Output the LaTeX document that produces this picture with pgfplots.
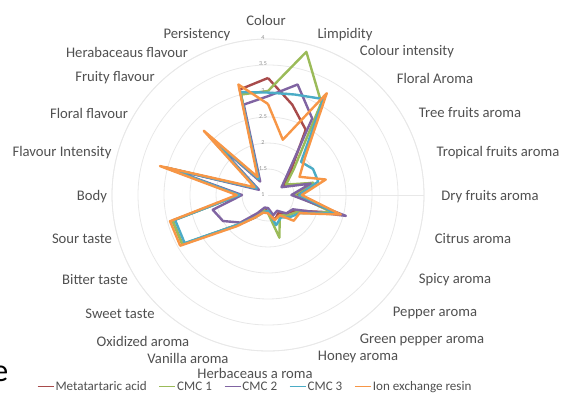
\documentclass[border=0pt]{standalone}
\usepackage{pgfplots}
\pgfplotsset{compat=1.18}
\usepgfplotslibrary{polar}
\usepackage{pgfplotstable}
\usepackage{fontspec}
\setmainfont{Carlito}
\definecolor{cMA}{HTML}{A84B4B}
\definecolor{cCa}{HTML}{9BBB59}
\definecolor{cCb}{HTML}{8064A2}
\definecolor{cCc}{HTML}{4BACC6}
\definecolor{cIon}{HTML}{F79646}
\definecolor{lbl}{HTML}{505050}

% angle (deg), then scores of the five treatments (scale 1-4)
\pgfplotstableread{
ang  meta cmcA cmcB cmcC ion
90   3.25 3.00 2.90 2.97 2.75
75   2.80 3.85 3.20 3.00 2.10
60   2.45 3.05 2.70 3.13 3.26
45   1.60 1.70 1.50 1.90 2.00
30   1.35 1.40 1.30 2.00 1.70
15   1.90 1.90 1.85 2.00 2.15
0    1.55 1.50 1.45 1.60 1.65
-15  2.30 2.30 2.55 2.35 2.45
-30  1.60 1.65 1.55 1.70 1.70
-45  1.50 1.55 1.50 1.60 1.70
-60  1.40 1.45 1.35 1.50 1.45
-75  1.50 1.85 1.40 1.60 1.50
-90  1.30 1.35 1.25 1.30 1.35
-105 1.30 1.30 1.25 1.35 1.35
-120 1.50 1.45 1.40 1.50 1.50
-135 1.80 1.80 1.75 1.80 1.85
-150 2.90 2.90 2.00 2.85 2.95
-165 2.90 2.90 2.10 2.85 2.95
-180 1.55 1.55 1.50 1.55 1.60
-195 3.05 3.05 3.00 3.00 3.15
-210 1.25 1.25 1.20 1.25 1.30
-225 2.60 2.55 2.50 2.55 2.75
-240 1.35 1.35 1.30 1.35 1.40
-255 3.10 3.00 2.80 3.05 3.20
-270 3.25 3.00 2.90 2.97 2.75
}\data

\begin{document}
\begin{tikzpicture}[x=0.75pt,y=0.75pt]
\useasboundingbox (0,0) rectangle (564,400);
\begin{scope}[overlay]
\begin{polaraxis}[
  name=rad,
  at={(201pt,153.75pt)}, anchor=center,
  scale only axis, width=234pt, height=234pt,
  ymin=0, ymax=3,
  xtick=\empty,
  ytick={0.5,1,1.5,2,2.5,3},
  yticklabels={},
  major tick length=0pt,
  ymajorgrids=true,
  major grid style={black!9, line width=0.6pt},
  axis line style={black!9, line width=0.6pt},
  clip=false,
  legend style={at={(0.458,-0.115)}, anchor=center, draw=none, fill=none,
    font=\fontsize{9.8}{11}\selectfont, text=lbl,
    nodes={inner xsep=1pt, inner ysep=1pt},
    /tikz/every even column/.append style={column sep=8pt}},
  legend columns=5,
  legend image code/.code={\draw[#1, line width=0.9pt] (0pt,0pt) -- (12pt,0pt);},
  every axis plot/.append style={line width=1.8pt, line join=round, mark=none},
]
\addplot[cMA]  table[x=ang, y expr=\thisrow{meta}-1] {\data};
\addplot[cCa]  table[x=ang, y expr=\thisrow{cmcA}-1] {\data};
\addplot[cCb]  table[x=ang, y expr=\thisrow{cmcB}-1] {\data};
\addplot[cCc]  table[x=ang, y expr=\thisrow{cmcC}-1] {\data};
\addplot[cIon] table[x=ang, y expr=\thisrow{ion}-1] {\data};
\legend{Metatartaric acid, CMC 1, CMC 2, CMC 3, Ion exchange resin}
\end{polaraxis}
\end{scope}

% radial scale labels along the Colour spoke
\begin{scope}[every node/.style={font=\fontsize{4.5}{5}\selectfont, text=black!45, inner sep=0}]
\node at (263,205) {1};
\node at (263,231.2) {1.5};
\node at (263,257.4) {2};
\node at (263,283.6) {2.5};
\node at (263,309.8) {3};
\node at (263,336) {3.5};
\node at (263,362.2) {4};
\end{scope}

% category labels
\begin{scope}[every node/.style={font=\fontsize{11}{13}\selectfont, text=lbl, inner sep=0}]
\node at (266,380) {Colour};
\node at (345,365) {Limpidity};
\node at (407,348) {Colour intensity};
\node at (435,322) {Floral Aroma};
\node at (470,287) {Tree fruits aroma};
\node at (498,247) {Tropical fruits aroma};
\node at (490,203) {Dry fruits aroma};
\node at (473,161) {Citrus aroma};
\node at (455,120) {Spicy aroma};
\node at (435,87) {Pepper aroma};
\node at (422,60) {Green pepper aroma};
\node at (358,43) {Honey aroma};
\node at (255,27) {Herbaceaus a roma};
\node at (188,42) {Vanilla aroma};
\node at (143,59) {Oxidized aroma};
\node at (120,86) {Sweet taste};
\node at (95,120) {Bitter taste};
\node at (82,161) {Sour taste};
\node at (92,203) {Body};
\node at (62,247) {Flavour Intensity};
\node at (89,287) {Floral flavour};
\node at (115,322) {Fruity flavour};
\node at (127,348) {Herabaceaus flavour};
\node at (197,365) {Persistency};
\end{scope}

% stray cropped glyph at the lower left edge of the reference
\node[anchor=base west, inner sep=0, font=\fontsize{24}{24}\selectfont] at (-8,19) {e};
\end{tikzpicture}
\end{document}
